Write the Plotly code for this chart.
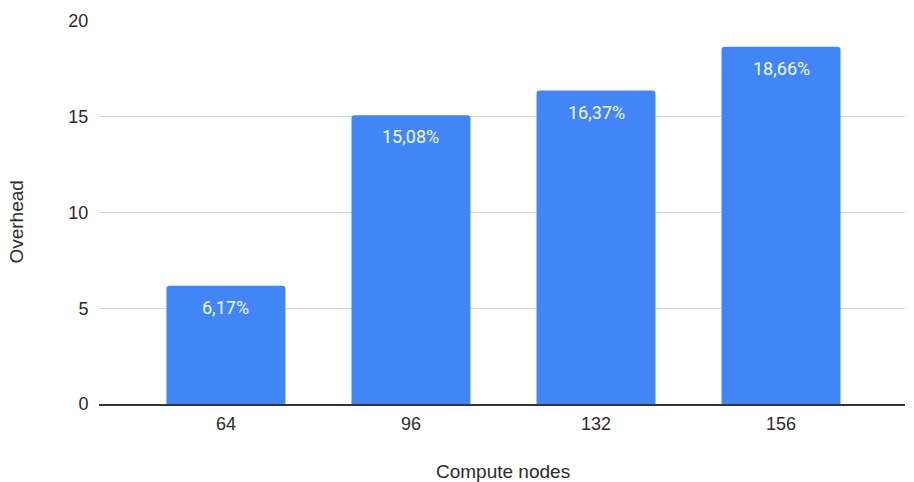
import plotly.graph_objects as go

categories = ["64", "96", "132", "156"]
overhead = [6.17, 15.08, 16.37, 18.66]
y_ticks = [0, 5, 10, 15, 20]

labels = [f"{v:.2f}".replace(".", ",") + "%" for v in overhead]

fig = go.Figure()
fig.add_trace(go.Bar(
    x=list(range(len(categories))),
    y=overhead,
    marker=dict(color="#4285F4", cornerradius=3, line=dict(width=0)),
    width=0.643,
    hoverinfo="skip",
))

for i, (v, t) in enumerate(zip(overhead, labels)):
    fig.add_annotation(x=i, y=v, text=t, showarrow=False, yanchor="top",
                       yshift=-9, font=dict(family="Roboto", size=18, color="#f4f8ff"))

fig.add_annotation(xref="paper", yref="paper", x=(503 - 99) / 806, y=(482 - 471 - 78) / 383,
                   text="Compute nodes", showarrow=False, yanchor="middle", xanchor="center",
                   font=dict(family="Liberation Sans", size=19, color="#2a2a2a"))
fig.add_annotation(xref="paper", yref="paper", x=(17 - 99) / 806, y=(404.4 - 223) / 383,
                   text="Overhead", showarrow=False, textangle=-90, yanchor="middle", xanchor="center",
                   font=dict(family="Liberation Sans", size=19, color="#2a2a2a"))

fig.update_layout(
    width=914, height=482,
    margin=dict(l=99, r=9, t=21, b=78),
    plot_bgcolor="white", paper_bgcolor="white",
    showlegend=False,
    bargap=0.36,
    xaxis=dict(
        range=[-0.686, 3.670],
        tickmode="array",
        tickvals=list(range(len(categories))),
        ticktext=categories,
        showgrid=False,
        zeroline=False,
        showline=True, linecolor="#333333", linewidth=1.5,
        ticks="outside", ticklen=3, tickcolor="rgba(0,0,0,0)",
        tickfont=dict(family="Liberation Sans", size=18, color="#2a2a2a"),
    ),
    yaxis=dict(
        range=[0, 20],
        tickmode="array",
        tickvals=y_ticks,
        showgrid=True, gridcolor="#d6d6d6", gridwidth=1,
        zeroline=False,
        showline=False,
        ticks="outside", ticklen=6, tickcolor="rgba(0,0,0,0)",
        tickfont=dict(family="Liberation Sans", size=18, color="#2a2a2a"),
    ),
)

fig.write_html("out.html")
